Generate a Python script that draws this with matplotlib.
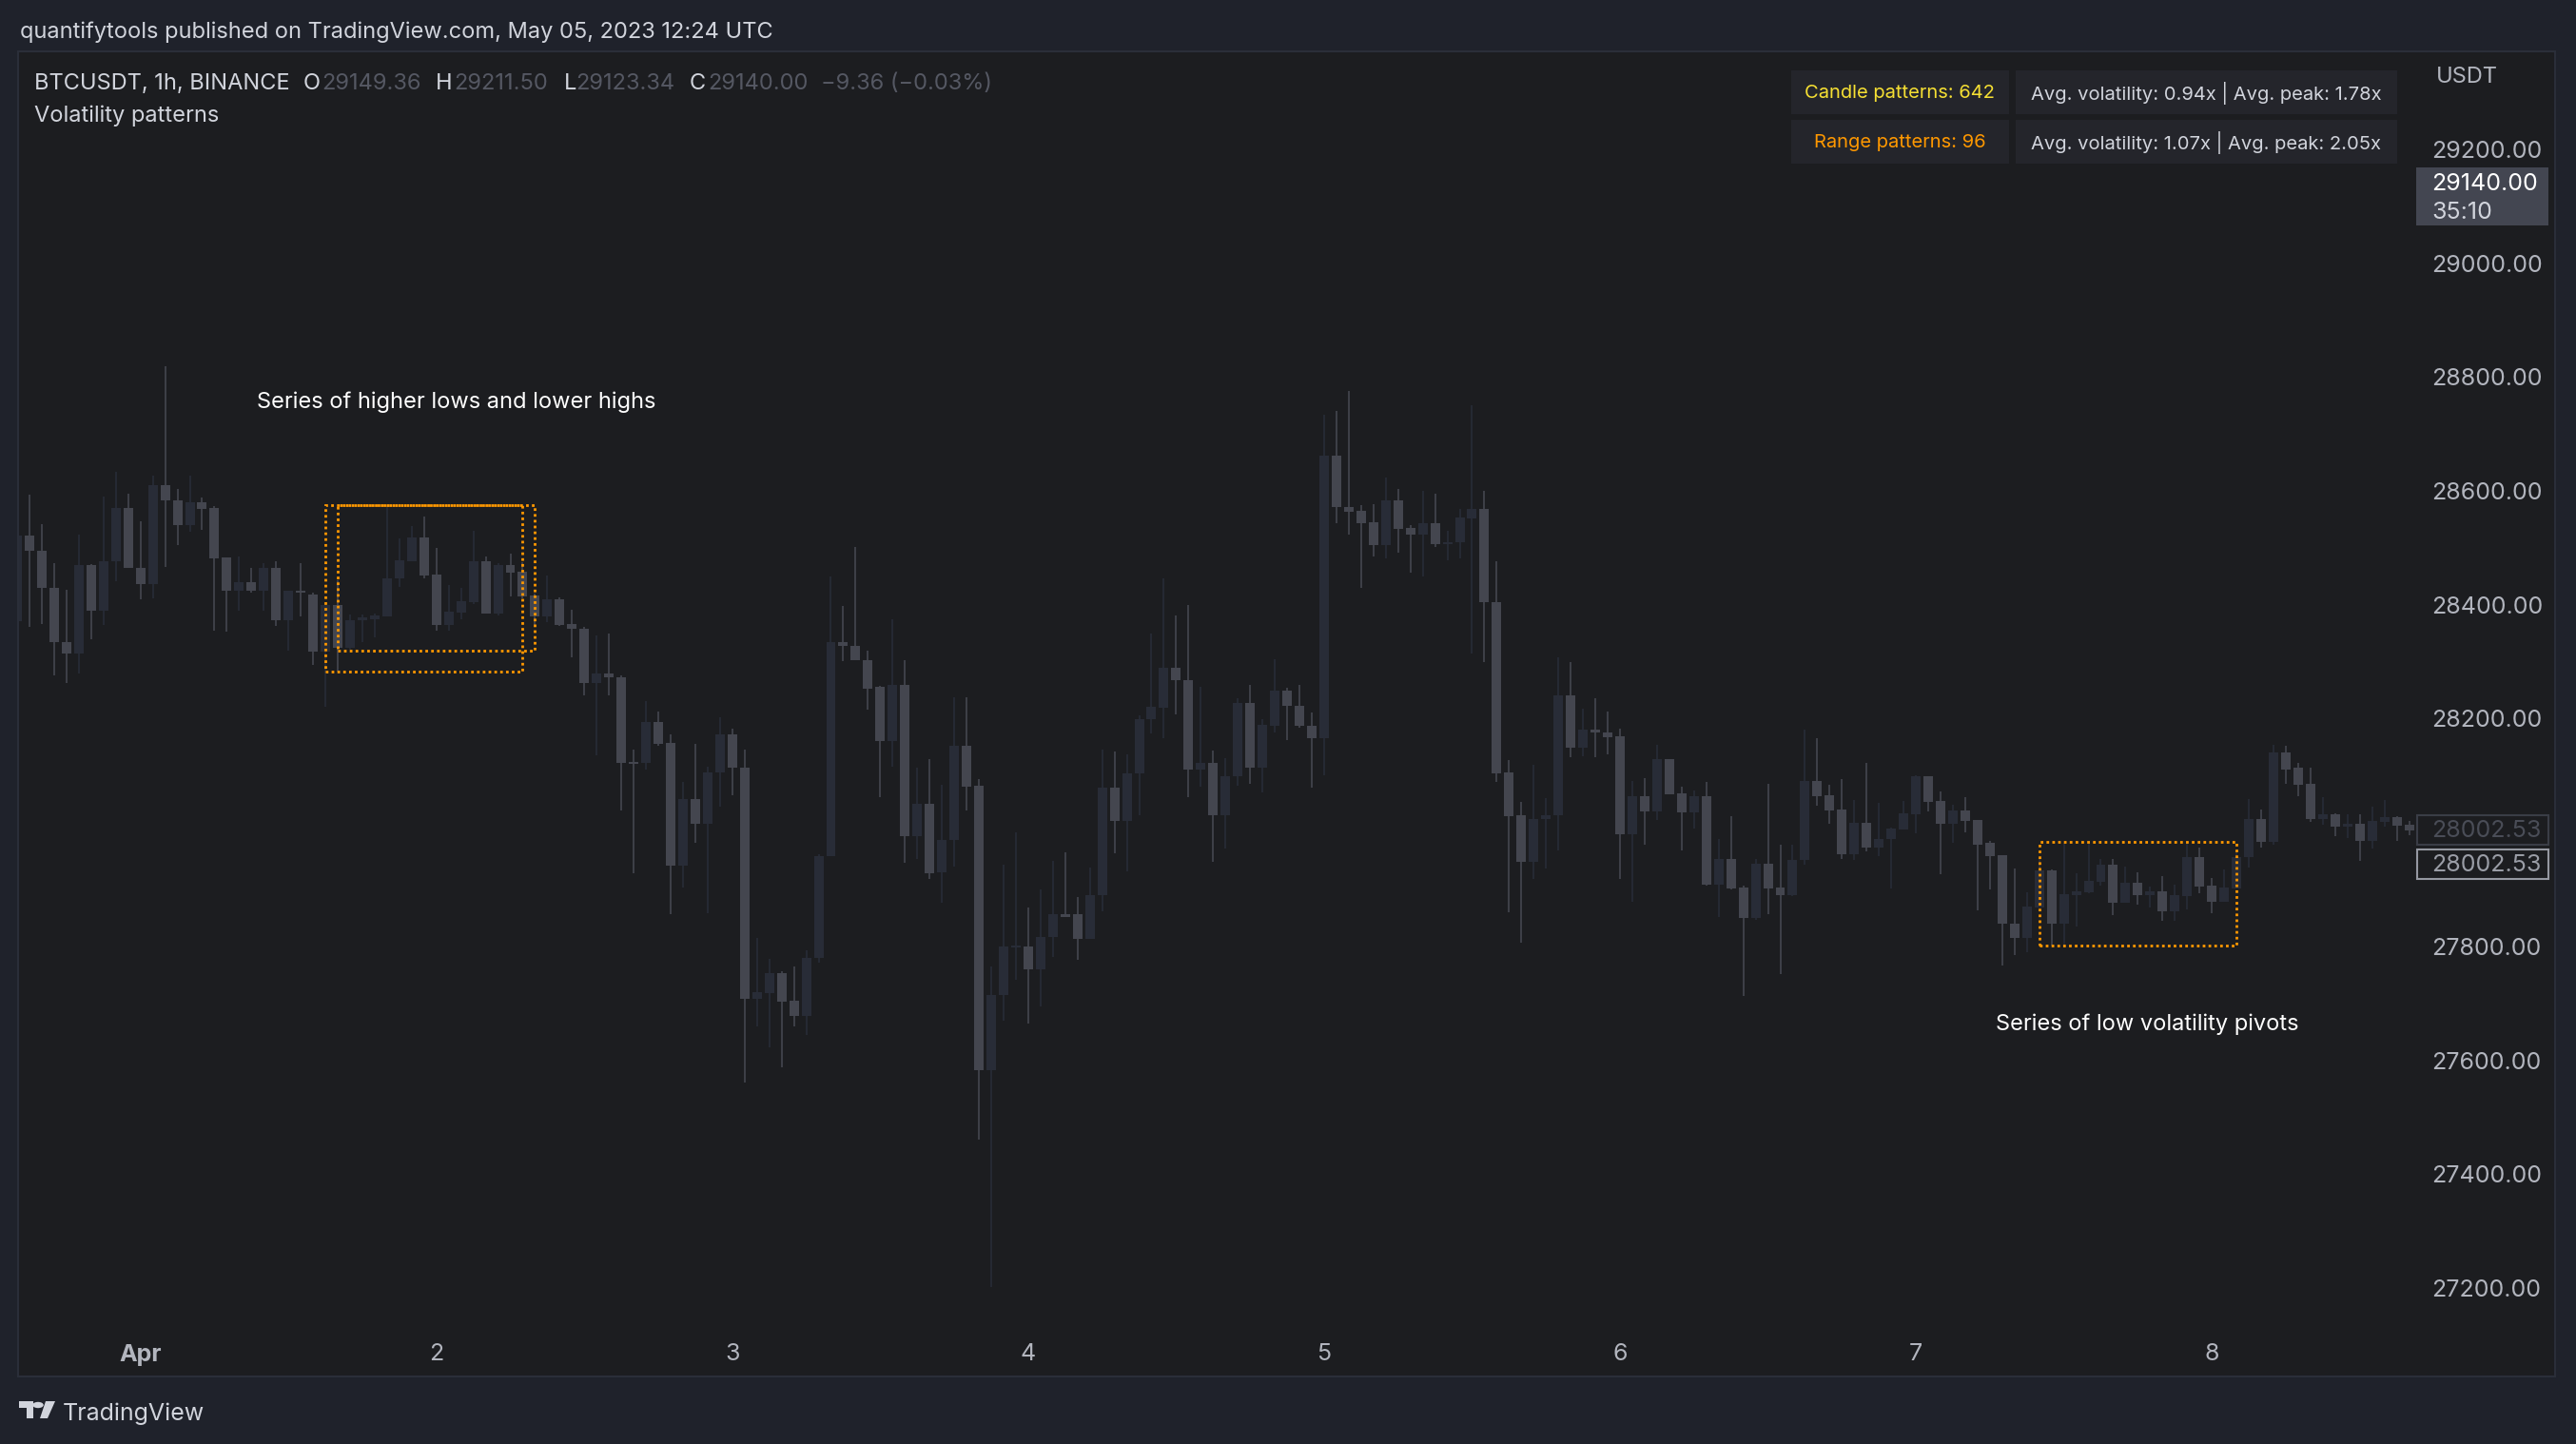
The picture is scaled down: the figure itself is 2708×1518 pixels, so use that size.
import numpy as np
import matplotlib.pyplot as plt
from matplotlib.patches import Rectangle, Circle, Polygon

# BTCUSDT 1h candles, Mar 31 14:00 -> Apr 8 16:00
opens = [28371, 28522, 28495, 28430, 28335, 28314, 28470, 28390, 28476, 28570,
         28465, 28437, 28610, 28584, 28540, 28580, 28570, 28483, 28424, 28440,
         28424, 28465, 28372, 28424, 28418, 28317, 28400, 28325, 28372, 28375,
         28380, 28446, 28477, 28518, 28453, 28365, 28387, 28405, 28477, 28385,
         28470, 28458, 28416, 28380, 28410, 28366, 28358, 28263, 28279, 28273,
         28124, 28122, 28194, 28157, 27942, 28059, 28015, 28105, 28173, 28114,
         27708, 27718, 27753, 27705, 27678, 27779, 27958, 28334, 28328, 28303,
         28256, 28161, 28260, 27994, 28051, 27930, 27987, 28153, 28082, 27582,
         27714, 27798, 27800, 27759, 27816, 27857, 27857, 27813, 27890, 28078,
         28020, 28104, 28199, 28219, 28290, 28268, 28110, 28123, 28030, 28099,
         28228, 28113, 28188, 28250, 28223, 28188, 28165, 28662, 28571, 28565,
         28545, 28505, 28584, 28535, 28524, 28544, 28507, 28509, 28552, 28569,
         28405, 28105, 28031, 27948, 28023, 28030, 28241, 28149, 28181, 28176,
         28169, 27997, 28064, 28037, 28129, 28069, 28036, 28064, 27909, 27954,
         27904, 27849, 27945, 27904, 27890, 27951, 28091, 28066, 28041, 27962,
         28017, 27974, 27988, 28006, 28032, 28098, 28056, 28016, 28039, 28022,
         27981, 27960, 27840, 27815, 27869, 27934, 27839, 27890, 27895, 27914,
         27944, 27877, 27912, 27890, 27897, 27862, 27889, 27956, 27907, 27879,
         27902, 27956, 28024, 27984, 28141, 28113, 28086, 28024, 28032, 28011,
         28016, 27986, 28019, 28027, 28014]
highs = [28530, 28594, 28542, 28473, 28427, 28523, 28471, 28590, 28633, 28595,
         28546, 28626, 28819, 28604, 28626, 28589, 28573, 28483, 28485, 28465,
         28473, 28477, 28424, 28473, 28421, 28404, 28443, 28383, 28383, 28385,
         28574, 28517, 28539, 28555, 28500, 28435, 28430, 28530, 28485, 28473,
         28490, 28475, 28420, 28452, 28413, 28392, 28361, 28346, 28350, 28276,
         28145, 28230, 28213, 28173, 28089, 28156, 28116, 28203, 28183, 28145,
         27815, 27778, 27756, 27765, 27793, 27962, 28450, 28398, 28502, 28320,
         28258, 28375, 28303, 28113, 28129, 28084, 28238, 28238, 28094, 27765,
         27944, 28001, 27869, 27900, 27950, 27965, 27886, 27939, 28145, 28143,
         28137, 28206, 28349, 28446, 28382, 28399, 28256, 28144, 28131, 28235,
         28260, 28199, 28304, 28254, 28260, 28211, 28733, 28740, 28776, 28575,
         28577, 28624, 28604, 28540, 28600, 28595, 28530, 28569, 28751, 28600,
         28477, 28127, 28054, 28119, 28061, 28308, 28300, 28218, 28236, 28213,
         28183, 28091, 28096, 28154, 28129, 28081, 28074, 28089, 27989, 28029,
         27907, 27954, 28086, 27979, 27979, 28181, 28166, 28084, 28094, 28057,
         28123, 28052, 28009, 28056, 28101, 28098, 28072, 28049, 28062, 28022,
         27986, 27960, 27937, 27895, 27953, 27935, 27981, 27929, 27986, 27954,
         27954, 27940, 27930, 27905, 27924, 27909, 27981, 27974, 27920, 27935,
         27965, 28059, 28041, 28154, 28153, 28123, 28114, 28062, 28034, 28032,
         28032, 28046, 28057, 28029, 28021]
lows = [28365, 28361, 28366, 28276, 28263, 28280, 28339, 28364, 28442, 28464,
        28409, 28411, 28467, 28504, 28528, 28531, 28354, 28352, 28390, 28421,
        28390, 28362, 28320, 28379, 28294, 28220, 28282, 28321, 28334, 28343,
        28380, 28431, 28477, 28446, 28355, 28355, 28375, 28402, 28384, 28382,
        28415, 28412, 28365, 28369, 28362, 28307, 28240, 28136, 28240, 28038,
        27928, 28110, 28153, 27857, 27903, 27981, 27859, 28045, 28065, 27560,
        27659, 27623, 27588, 27660, 27645, 27772, 27958, 28301, 28302, 28216,
        28062, 28116, 27946, 27953, 27919, 27876, 27940, 28038, 27461, 27202,
        27670, 27741, 27664, 27695, 27781, 27851, 27776, 27813, 27862, 27963,
        27932, 28030, 28174, 28166, 28207, 28062, 28080, 27948, 27971, 28082,
        28085, 28071, 28175, 28162, 28184, 28079, 28100, 28544, 28524, 28429,
        28484, 28481, 28492, 28456, 28450, 28502, 28478, 28481, 28314, 28300,
        28088, 27860, 27806, 27919, 27936, 27968, 28133, 28134, 28133, 28138,
        27919, 27879, 27979, 28022, 28067, 27969, 28007, 27907, 27851, 27900,
        27712, 27847, 27857, 27751, 27889, 27944, 28047, 28016, 27954, 27951,
        27966, 27958, 27901, 28006, 27998, 28037, 27927, 27981, 28001, 27864,
        27900, 27767, 27785, 27790, 27869, 27802, 27802, 27834, 27894, 27907,
        27855, 27877, 27874, 27869, 27845, 27845, 27865, 27894, 27858, 27879,
        27902, 27939, 27974, 27979, 28086, 28064, 28019, 28014, 27994, 27991,
        27950, 27971, 28011, 27986, 27996]
closes = [28522, 28494, 28429, 28334, 28314, 28470, 28390, 28477, 28570, 28464,
          28437, 28610, 28583, 28540, 28580, 28569, 28482, 28424, 28440, 28424,
          28465, 28372, 28424, 28421, 28317, 28400, 28325, 28373, 28377, 28381,
          28447, 28478, 28518, 28452, 28365, 28388, 28407, 28477, 28385, 28470,
          28457, 28415, 28380, 28410, 28365, 28357, 28263, 28279, 28272, 28123,
          28121, 28194, 28156, 27942, 28059, 28015, 28106, 28173, 28113, 27708,
          27720, 27753, 27703, 27678, 27780, 27958, 28335, 28327, 28302, 28253,
          28161, 28260, 27994, 28051, 27929, 27987, 28153, 28080, 27582, 27714,
          27800, 27801, 27759, 27817, 27857, 27851, 27813, 27890, 28078, 28020,
          28104, 28199, 28220, 28290, 28267, 28110, 28122, 28030, 28099, 28228,
          28113, 28189, 28250, 28222, 28187, 28165, 28662, 28571, 28564, 28544,
          28505, 28584, 28534, 28524, 28544, 28507, 28510, 28553, 28569, 28404,
          28104, 28029, 27948, 28024, 28031, 28241, 28149, 28181, 28175, 28168,
          27997, 28064, 28037, 28129, 28067, 28036, 28064, 27909, 27954, 27902,
          27849, 27945, 27902, 27890, 27952, 28091, 28064, 28039, 27962, 28017,
          27974, 27989, 28007, 28034, 28098, 28054, 28016, 28039, 28021, 27979,
          27959, 27839, 27815, 27870, 27934, 27839, 27892, 27897, 27915, 27944,
          27877, 27912, 27890, 27897, 27862, 27890, 27956, 27905, 27879, 27904,
          27957, 28024, 27984, 28141, 28111, 28084, 28024, 28032, 28011, 28016,
          27986, 28021, 28027, 28012, 28003]

day_ticks = [10, 34, 58, 82, 106, 130, 154, 178]
day_labels = ["Apr", "2", "3", "4", "5", "6", "7", "8"]
# 28000 is hidden behind the last-price labels
price_ticks = [27200, 27400, 27600, 27800, 28200, 28400, 28600, 28800, 29000, 29200]

# range pattern boxes (candle index from/to, price low/high)
box_start = [25, 26, 164]
box_end = [41, 42, 180]
box_low = [28282, 28320, 27802]
box_high = [28575, 28575, 27984]

W, H = 2708, 1518
OUTER = '#1f222b'
PANEL = '#1c1d20'
LIGHT = '#44464f'
DARK = '#282c37'
TXT = '#d1d4dc'
DIM = '#555863'

plt.rcParams['font.family'] = ['Inter', 'DejaVu Sans']


def fx(x):
    return x / W


def fy(y):
    return 1 - y / H


fig = plt.figure(figsize=(W / 100, H / 100), dpi=100, facecolor=OUTER)
fig.patches.append(Rectangle((fx(19), fy(1447)), fx(2686) - fx(19), fy(54) - fy(1447),
                             transform=fig.transFigure, facecolor=PANEL,
                             edgecolor='#2a2e39', lw=1.5, zorder=-5))

ax = fig.add_axes([fx(20), fy(1400), fx(2539) - fx(20), fy(54) - fy(1400)])
ax.set_zorder(1)
ax.patch.set_alpha(0)
for s in ax.spines.values():
    s.set_visible(False)

idx = np.arange(len(opens))
o = np.array(opens)
c = np.array(closes)
colors = np.where(c >= o, DARK, LIGHT)
ax.vlines(idx, lows, highs, colors=colors, lw=1.2, zorder=2)
ax.bar(idx, np.maximum(np.abs(c - o), 2.5), bottom=np.minimum(o, c), width=0.77,
       color=colors, linewidth=0, zorder=3)

for s, e, lo, hi in zip(box_start, box_end, box_low, box_high):
    ax.add_patch(Rectangle((s, lo), e - s, hi - lo, fill=False, edgecolor='#ff9800',
                           lw=2, linestyle=(0, (1, 1.2)), zorder=4))

ax.text(19.4, 28756, "Series of higher lows and lower highs", color='white',
        fontsize=17, va='center', ha='left')
ax.text(160.5, 27663, "Series of low volatility pivots", color='white',
        fontsize=17, va='center', ha='left')

ax.set_xlim(0.15, 194.5)
ax.set_ylim(27123, 29372)
ax.yaxis.tick_right()
ax.set_yticks(price_ticks)
ax.set_yticklabels([f"{p:.2f}" for p in price_ticks])
ax.tick_params(axis='y', length=0, pad=12, labelsize=18, labelcolor='#b2b5be')
ax.set_xticks(day_ticks)
ax.set_xticklabels(day_labels)
ax.tick_params(axis='x', length=0, pad=9, labelsize=18, labelcolor='#b2b5be')
ax.get_xticklabels()[0].set_fontweight('bold')

# header and legend
fig.text(fx(21), fy(34), "quantifytools published on TradingView.com, May 05, 2023 12:24 UTC",
         color=TXT, fontsize=17, va='center')
legend = [(36.5, "BTCUSDT, 1h, BINANCE", TXT), (319, "O", TXT), (338, "29149.36", DIM),
          (458, "H", TXT), (477, "29211.50", DIM), (593, "L", TXT), (605, "29123.34", DIM),
          (725, "C", TXT), (744, "29140.00", DIM), (863, "\u22129.36 (\u22120.03%)", DIM)]
for x, t, col in legend:
    fig.text(fx(x), fy(88), t, color=col, fontsize=17, va='center')
fig.text(fx(36.5), fy(122), "Volatility patterns", color=TXT, fontsize=17, va='center')

# stats table
cells = [(1883, 2111.5, 74, 120, "Candle patterns: 642", '#f5df33'),
         (2118.5, 2520, 74, 120, "Avg. volatility: 0.94x | Avg. peak: 1.78x", TXT),
         (1883, 2111.5, 126, 172, "Range patterns: 96", '#ff9800'),
         (2118.5, 2520, 126, 172, "Avg. volatility: 1.07x | Avg. peak: 2.05x", TXT)]
for x0, x1, y0, y1, t, col in cells:
    fig.patches.append(Rectangle((fx(x0), fy(y1)), fx(x1) - fx(x0), fy(y0) - fy(y1),
                                 transform=fig.transFigure, facecolor='#24252b', lw=0,
                                 zorder=-4))
    fig.text(fx((x0 + x1) / 2), fy((y0 + y1) / 2 + 1), t, color=col, fontsize=14.5,
             ha='center', va='center')

# price scale extras
fig.text(fx(2593), fy(81), "USDT", color='#b2b5be', fontsize=17, ha='center', va='center')
fig.patches.append(Rectangle((fx(2540), fy(237)), fx(2679) - fx(2540), fy(176) - fy(237),
                             transform=fig.transFigure, facecolor='#434651', lw=0))
fig.text(fx(2556), fy(194), "29140.00", color='white', fontsize=18, va='center')
fig.text(fx(2556), fy(223), "35:10", color=TXT, fontsize=18, va='center')
fig.patches.append(Rectangle((fx(2541), fy(888)), fx(2679) - fx(2541), fy(857) - fy(888),
                             transform=fig.transFigure, facecolor=PANEL,
                             edgecolor='#3a3d46', lw=1.5))
fig.text(fx(2556), fy(873.5), "28002.53", color='#4a4d57', fontsize=18, va='center')
fig.patches.append(Rectangle((fx(2541), fy(924)), fx(2679) - fx(2541), fy(893) - fy(924),
                             transform=fig.transFigure, facecolor=PANEL,
                             edgecolor='#9598a1', lw=1.5))
fig.text(fx(2556), fy(909.5), "28002.53", color='#9a9da6', fontsize=18, va='center')

# TradingView logo
logo = '#d1d4dc'
fig.patches.append(Rectangle((fx(20), fy(1480)), fx(35) - fx(20), fy(1473) - fy(1480),
                             transform=fig.transFigure, facecolor=logo, lw=0))
fig.patches.append(Rectangle((fx(28), fy(1491)), fx(35) - fx(28), fy(1473) - fy(1491),
                             transform=fig.transFigure, facecolor=logo, lw=0))
fig.patches.append(Circle((fx(40), fy(1477)), 3.2 / H, transform=fig.transFigure,
                          facecolor=logo, lw=0))
fig.patches.append(Polygon([(fx(48), fy(1473)), (fx(58), fy(1473)), (fx(50), fy(1491)),
                            (fx(42), fy(1491))], closed=True, transform=fig.transFigure,
                           facecolor=logo, lw=0))
fig.text(fx(66), fy(1486), "TradingView", color=logo, fontsize=18, va='center')

fig.savefig("out.png", dpi=100, facecolor=OUTER)
